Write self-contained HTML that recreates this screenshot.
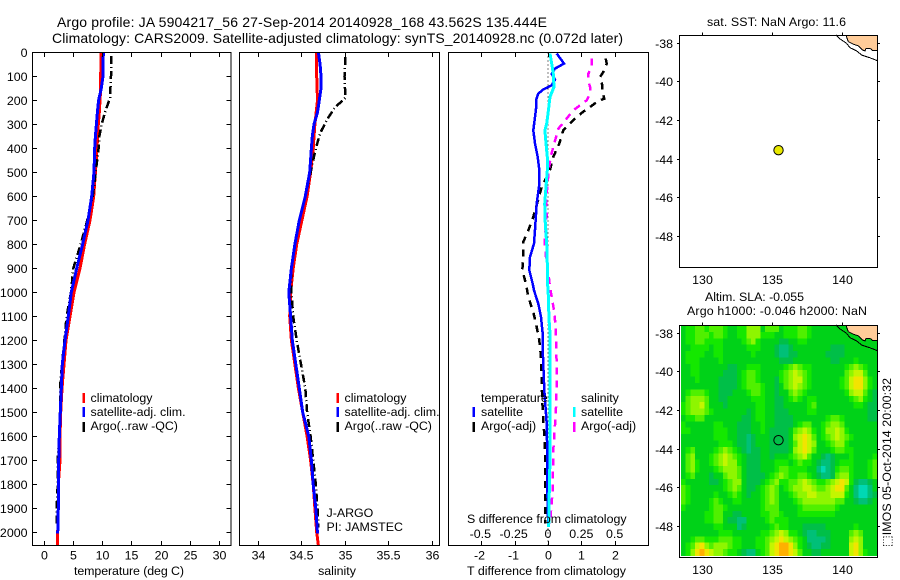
<!DOCTYPE html>
<html lang="en">
<head>
<meta charset="utf-8">
<title>Argo profile 5904217_56</title>
<style>
html,body{margin:0;padding:0;background:#fff;width:900px;height:580px;overflow:hidden}
svg{display:block}
text{font-family:"Liberation Sans","DejaVu Sans",sans-serif;font-size:12.4px;fill:#000}
</style>
</head>
<body>
<svg id="chart" width="900" height="580" viewBox="0 0 900 580" xmlns="http://www.w3.org/2000/svg">
  <rect width="900" height="580" fill="#fff"/>
  <text x="57" y="27" style="font-size:14px" textLength="490" lengthAdjust="spacing">Argo profile: JA 5904217_56 27-Sep-2014 20140928_168 43.562S 135.444E</text>
  <text x="52" y="43" style="font-size:14px" textLength="571" lengthAdjust="spacing">Climatology: CARS2009. Satellite-adjusted climatology: synTS_20140928.nc (0.072d later)</text>
  <text x="74" y="575" textLength="110" lengthAdjust="spacing">temperature (deg C)</text>
  <text x="337" y="575" text-anchor="middle">salinity</text>
  <text x="467" y="575" textLength="159" lengthAdjust="spacing">T difference from climatology</text>
  <text x="707" y="26" textLength="139" lengthAdjust="spacing">sat. SST: NaN Argo: 11.6</text>
  <text x="705" y="301" textLength="99" lengthAdjust="spacing">Altim. SLA: -0.055</text>
  <text x="687" y="315" textLength="180" lengthAdjust="spacing">Argo h1000: -0.046 h2000: NaN</text>
  <text transform="translate(891,547) rotate(-90)" textLength="169" lengthAdjust="spacing">&#11034;IMOS 05-Oct-2014 20:00:32</text>
  <g id="layer"></g>
</svg>
<script>
// ---- Profile data (depth in dbar) ----
const tempDepths = [0,100,150,200,250,300,350,400,500,600,700,800,900,1000,1100,1200,1300,1400,1500,1600,1700,1800,1900,2000];
const tempClim = [9.81,9.76,9.76,9.64,9.53,9.36,9.24,9.13,8.85,8.56,7.93,7.02,6.23,5.2,4.52,3.84,3.5,3.16,2.93,2.82,2.82,2.53,2.53,2.42];
const tempSat = [10.2,10.15,9.87,9.41,9.19,9.02,8.85,8.73,8.62,8.22,7.59,6.68,5.66,4.75,4.24,3.67,3.21,3.04,2.87,2.7,2.59,2.53,2.53,2.42];
const tempArgoDepths = [15,100,190,250,300,350,400,500,600,700,800,900,1000,1100,1200,1300,1400,1500,1600,1700,1800,1900,1970];
const tempArgo = [11.58,11.52,11.35,10.5,9.93,9.53,9.41,8.9,8.4,7.48,6.34,5.09,4.69,3.95,3.56,3.16,2.82,2.82,2.7,2.42,2.42,2.25,2.25];
const salDepths = [0,100,200,300,350,400,500,600,700,800,900,1000,1100,1200,1300,1400,1500,1600,1700,1800,1900,2000,2055];
const salClim = [34.68,34.68,34.69,34.66,34.65,34.64,34.61,34.57,34.51,34.45,34.41,34.38,34.37,34.39,34.43,34.47,34.52,34.57,34.61,34.64,34.66,34.68,34.70];
const salSatDepths = [0,50,100,150,200,250,300,350,400,500,600,700,800,900,1000,1100,1200,1300,1400,1500,1600,1700,1800,1900,2005];
const salSat = [34.70,34.72,34.73,34.73,34.71,34.69,34.65,34.63,34.62,34.60,34.55,34.48,34.43,34.39,34.36,34.38,34.40,34.44,34.48,34.52,34.59,34.62,34.64,34.67,34.69];
const salArgoDepths = [20,100,190,230,280,330,350,400,500,600,700,800,900,1000,1100,1200,1300,1400,1500,1600,1700,1800,1900,1980];
const salArgo = [35.01,35.0,35.01,34.89,34.80,34.73,34.71,34.67,34.61,34.55,34.48,34.43,34.39,34.39,34.41,34.45,34.50,34.55,34.57,34.61,34.64,34.67,34.69,34.70];
const dtSatDepths = [5,47,68,90,114,137,155,172,200,235,270,325,380,436,490,560,630,740,797,853,908,964,992,1047,1103,1172,1270,1408,1547,1686,1825,1978];
const dtSat = [.26,.48,.21,.11,.21,.11,-.14,-.29,-.36,-.36,-.39,-.44,-.39,-.31,-.26,-.27,-.34,-.39,-.42,-.54,-.56,-.46,-.42,-.29,-.21,-.16,-.15,-.11,-.04,-.02,-.02,.01];
const dtArgoDepths = [26,47,82,103,137,165,193,203,228,242,269,290,325,380,436,490,561,686,742,790,853,908,964,1019,1082,1145,1200,1256,1320,1380,1492,1575,1686,1825,1964];
const dtArgo = [1.73,1.76,1.66,1.56,1.63,1.63,1.69,1.51,1.26,1.11,.86,.71,.46,.34,.16,.06,-.19,-.44,-.59,-.74,-.74,-.77,-.66,-.59,-.44,-.34,-.26,-.22,-.20,-.19,-.16,-.12,-.08,-.08,-.08];
const dsSatDepths = [5,47,89,144,186,242,297,325,380,436,492,561,631,714,797,881,964,1019,1047,1131,1172,1408,1547,1686,1825,1978];
const dsSat = [.015,.028,.04,.045,.015,.003,-.01,-.023,-.015,-.005,-.005,-.015,-.025,-.02,-.01,-.005,-.003,.003,.003,.01,.015,.015,.015,.015,.01,.005];
const dsArgoDepths = [26,61,89,117,144,172,200,221,242,276,318,367,394,436,492,561,617,672,790,853,922,978,1019,1075,1145,1242,1339,1450,1547,1658,1825,1895,1964];
const dsArgo = [.328,.328,.303,.303,.315,.315,.29,.24,.19,.14,.078,.053,.04,.02,.005,-.005,-.015,-.01,-.025,-.015,.003,.015,.028,.045,.058,.063,.065,.063,.053,.04,.035,.025,.015];

// ---- Tick labels ----
const depthTicks = [0,100,200,300,400,500,600,700,800,900,1000,1100,1200,1300,1400,1500,1600,1700,1800,1900,2000];
const tempTicks = [0,5,10,15,20,25,30];
const salTicks = [34,34.5,35,35.5,36];
const dtTicks = [-2,-1,0,1,2];
const dsTicks = [-0.5,-0.25,0,0.25,0.5];
const lonTicks = [130,135,140];
const latTicks = [-38,-40,-42,-44,-46,-48];

// ---- Map data ----
const floatLon = 135.444;
const floatLat = -43.562;
const coastLon = [140.26,140.43,140.79,141.14,141.46,141.62,141.69,141.98,142.17,142.51];
const coastLat = [-37.6,-37.95,-38.08,-38.16,-38.38,-38.43,-38.29,-38.29,-38.41,-38.41];
const shelfLon = [139.55,139.84,140.31,140.55,141.03,141.39,141.98,142.51];
const shelfLat = [-37.6,-37.81,-38.03,-38.26,-38.43,-38.64,-38.78,-38.93];
const slaLevels = ['#00d8b4','#00c078','#00bf48','#00d218','#14e800','#50f000','#8ef600','#c4f600','#f2e400','#ffb000'];
const slaGrid = [
"344554 555433 446663 555344 455433 333333 333333",
"344555 455433 446664 443344 455433 333333 333333",
"344554 444333 345643 333223 344333 333333 333333",
"334444 344333 334443 332112 333333 332223 333333",
"344443 344333 333433 332112 233333 322223 333333",
"344433 334333 333333 333222 333333 332233 343333",
"334433 333322 334443 333345 654433 333334 565433",
"334433 333222 345543 333456 765433 333335 677533",
"333433 332222 345543 332456 775433 333345 788643",
"333333 332222 345554 332356 765433 333345 788643",
"345554 332223 334554 332335 654333 333334 677532",
"356665 332233 333444 332234 543443 333333 456432",
"456675 333233 333344 332233 333453 333333 344322",
"456665 433333 332344 332223 333443 333333 333322",
"344553 333333 322344 332222 333333 345543 333322",
"433333 344333 222334 332222 345533 456653 333333",
"443333 344433 222334 322223 567643 466764 333333",
"333333 344433 221233 322223 678753 456765 433333",
"333333 334443 221233 322223 578763 345664 333333",
"345333 345654 321223 322223 678753 334554 433333",
"356333 456765 432223 323334 567533 212333 433334",
"356433 456766 432223 334443 454432 112344 433345",
"356433 345666 532223 334554 444331 012455 433345",
"345333 233566 532222 345654 455432 112566 433345",
"433333 223456 632223 456445 567654 456787 421123",
"543333 333456 532234 565345 667765 567885 310013",
"543333 343345 432334 565334 566776 667774 310012",
"543333 454334 433334 565333 456666 666553 321123",
"433333 455433 333334 555333 345555 555433 333333",
"333334 455332 233334 455433 344444 444333 333333",
"333334 455322 113333 454443 333333 333333 333333",
"333333 344333 123333 345443 332222 233333 343333",
"333333 334443 333334 456764 432112 223333 565333",
"334554 445554 433344 567876 543111 123333 676333",
"345786 566654 433344 578998 643211 223333 786333",
"346898 766544 321134 578998 753322 333333 786433"
];

// ---- Axis functions ----
const depthY = d => 52.3 + d * 0.24;
const tempX = t => 43.5 + t * 5.86;
const salX = s => 257.5 + (s - 34) * 87;
const dtX = t => 548 + t * 33.33;
const dsX = s => 548 + s * 133.3;
const lonX = lon => 702.3 + (lon - 130) * 14;
const latY = (lat, top) => top + 7.7 + (-38 - lat) * 19.33;

const NS = 'http://www.w3.org/2000/svg';
const layer = document.getElementById('layer');
function make(tag, props, parent) {
  const n = document.createElementNS(NS, tag);
  for (const k in props) n.setAttribute(k, props[k]);
  (parent || layer).appendChild(n);
  return n;
}
function linePath(xs, ys) {
  return xs.map((x, i) => (i ? 'L' : 'M') + x.toFixed(1) + ' ' + ys[i].toFixed(1)).join('');
}
function drawProfile(name, values, depths, xFn, color, width, dash) {
  const el = make('path', {d: linePath(values.map(xFn), depths.map(depthY)), fill: 'none', stroke: color, 'stroke-width': width, 'stroke-dasharray': dash || 'none', 'shape-rendering': 'crispEdges'});
  
  
}
function drawLabel(name, str, x, y, anchor) {
  const el = make('text', {x: x, y: y, 'text-anchor': anchor || 'start'});
  el.textContent = str;
  
  
}
function drawTick(name, x1, y1, x2, y2) {
  const el = make('line', {x1: x1, y1: y1, x2: x2, y2: y2, stroke: '#000', 'stroke-width': 1, 'shape-rendering': 'crispEdges'});
  
  
}
function drawFrame(name, x, y, w, h) {
  const el = make('rect', {x: x, y: y, width: w, height: h, fill: 'none', stroke: '#000', 'stroke-width': 1, 'shape-rendering': 'crispEdges'});
  
  
}
function drawLegendMark(name, x, y, color) {
  const el = make('rect', {x: x - 1, y: y, width: 2.5, height: 10, fill: color, 'shape-rendering': 'crispEdges'});
  
  
}

// ---- Profile panels ----
const TOP = 52.5, BOT = 545.5;
const argoDash = '8 3 1 3';
drawProfile('temperature-climatology-line', tempClim.concat([2.42]), tempDepths.concat([2055]), tempX, '#ff0000', 3);
drawProfile('temperature-argo-line', tempArgo, tempArgoDepths, tempX, '#000', 2.5, argoDash);
drawProfile('temperature-satellite-line', tempSat, tempDepths.map(d => d === 2000 ? 2005 : d), tempX, '#0000ff', 3);
drawProfile('salinity-climatology-line', salClim, salDepths, salX, '#ff0000', 3);
drawProfile('salinity-argo-line', salArgo, salArgoDepths, salX, '#000', 2.5, argoDash);
drawProfile('salinity-satellite-line', salSat, salSatDepths, salX, '#0000ff', 3);

const zero = make('line', {x1: dtX(0), y1: TOP, x2: dtX(0), y2: BOT, stroke: '#000', 'stroke-width': 1, 'stroke-dasharray': '1 3', 'shape-rendering': 'crispEdges'});


drawProfile('t-difference-argo-line', dtArgo, dtArgoDepths, dtX, '#000', 2.5, '7 6');
drawProfile('s-difference-argo-line', dsArgo, dsArgoDepths, dsX, '#ff00ff', 2.5, '7 6');
drawProfile('t-difference-satellite-line', dtSat, dtSatDepths, dtX, '#0000ff', 2.5);
drawProfile('s-difference-satellite-line', dsSat, dsSatDepths, dsX, '#00ffff', 3);

drawFrame('temperature-panel-frame', 32.5, TOP, 198.5, BOT - TOP);
drawFrame('salinity-panel-frame', 239.5, TOP, 200, BOT - TOP);
drawFrame('difference-panel-frame', 448.5, TOP, 200, BOT - TOP);

depthTicks.forEach(d => {
  const y = Math.round(depthY(d)) + 0.5;
  drawTick('depth-tick-left', 32.5, y, 37, y);
  drawTick('depth-tick-right', 226.5, y, 231, y);
  drawLabel('depth-tick-label', String(d), 27.5, y + 4.5, 'end');
});
tempTicks.forEach(t => {
  const x = Math.round(tempX(t)) + 0.5;
  drawTick('temperature-tick-top', x, TOP, x, TOP + 4.5);
  drawTick('temperature-tick-bottom', x, BOT, x, BOT - 4.5);
  drawLabel('temperature-tick-label', String(t), x, 559.5, 'middle');
});
salTicks.forEach(s => {
  const x = Math.round(salX(s)) + 0.5;
  drawTick('salinity-tick-top', x, TOP, x, TOP + 4.5);
  drawTick('salinity-tick-bottom', x, BOT, x, BOT - 4.5);
  drawLabel('salinity-tick-label', String(s), x, 559.5, 'middle');
});
dtTicks.forEach(t => {
  const x = Math.round(dtX(t)) + 0.5;
  drawTick('t-difference-tick-top', x, TOP, x, TOP + 4.5);
  drawTick('t-difference-tick-bottom', x, BOT, x, BOT - 4.5);
  drawLabel('t-difference-tick-label', String(t), x - (t < 0 ? 2 : 0), 559.5, 'middle');
});
dsTicks.forEach(s => {
  drawLabel('s-difference-tick-label', String(s), dsX(s) - (s < 0 ? 1 : 0), 538, 'middle');
});
drawLabel('s-difference-axis-title', 'S difference from climatology', 467, 523);

// ---- Legends ----
drawLegendMark('legend-mark-climatology', 83.5, 393, '#ff0000');
drawLabel('legend-label-climatology', 'climatology', 90.5, 402);
drawLegendMark('legend-mark-satellite', 83.5, 407, '#0000ff');
drawLabel('legend-label-satellite', 'satellite-adj. clim.', 90.5, 416);
drawLegendMark('legend-mark-argo', 83.5, 422, '#000');
drawLabel('legend-label-argo', 'Argo(..raw -QC)', 90.5, 430);
drawLegendMark('salinity-legend-mark-climatology', 337.5, 393, '#ff0000');
drawLabel('salinity-legend-label-climatology', 'climatology', 344.5, 402);
drawLegendMark('salinity-legend-mark-satellite', 337.5, 407, '#0000ff');
drawLabel('salinity-legend-label-satellite', 'satellite-adj. clim.', 344.5, 416);
drawLegendMark('salinity-legend-mark-argo', 337.5, 422, '#000');
drawLabel('salinity-legend-label-argo', 'Argo(..raw -QC)', 344.5, 430);
drawLabel('float-program-label', 'J-ARGO', 326.5, 517);
drawLabel('float-pi-label', 'PI: JAMSTEC', 326.5, 531);
drawLabel('difference-legend-temperature-heading', 'temperature', 481, 402);
drawLegendMark('difference-legend-mark-t-satellite', 473.5, 407, '#0000ff');
drawLabel('difference-legend-label-t-satellite', 'satellite', 481, 416);
drawLegendMark('difference-legend-mark-t-argo', 473.5, 422, '#000');
drawLabel('difference-legend-label-t-argo', 'Argo(-adj)', 481, 430);
drawLabel('difference-legend-salinity-heading', 'salinity', 581, 402);
drawLegendMark('difference-legend-mark-s-satellite', 574, 407, '#00ffff');
drawLabel('difference-legend-label-s-satellite', 'satellite', 581, 416);
drawLegendMark('difference-legend-mark-s-argo', 574, 422, '#ff00ff');
drawLabel('difference-legend-label-s-argo', 'Argo(-adj)', 581, 430);

// ---- Maps ----
const MAP_H = 232, MAP_L = 679.5, MAP_W = 198;
function drawMap(prefix, top, withGrid) {
  if (withGrid) {
    const x0 = 681, y0 = top + 0.5, cw = 196 / 42, ch = 230 / 36;
    slaGrid.forEach((row, r) => {
      const cells = row.replace(/ /g, '');
      for (let c = 0; c < cells.length; c++) {
        const cell = make('rect', {x: (x0 + c * cw).toFixed(2), y: (y0 + r * ch).toFixed(2), width: (cw + 0.5).toFixed(2), height: (ch + 0.5).toFixed(2), fill: slaLevels[+cells[c]], 'shape-rendering': 'crispEdges'});
        
        
      }
    });
  }
  const landX = coastLon.map(lonX).concat([lonX(142.51)]);
  const landY = coastLat.map(l => latY(l, top)).concat([top]);
  const land = make('path', {d: linePath(landX, landY) + 'Z', fill: '#ffcc99', stroke: 'none', 'shape-rendering': 'crispEdges'});
  
  
  const coast = make('path', {d: linePath(coastLon.map(lonX), coastLat.map(l => latY(l, top))), fill: 'none', stroke: '#000', 'stroke-width': 1, 'shape-rendering': 'crispEdges'});
  
  
  const shelf = make('path', {d: linePath(shelfLon.map(lonX), shelfLat.map(l => latY(l, top))), fill: 'none', stroke: '#000', 'stroke-width': 1, 'shape-rendering': 'crispEdges'});
  
  
  drawFrame(prefix + '-frame', MAP_L, top + 0.5, MAP_W, MAP_H);
  lonTicks.forEach(lon => {
    const x = Math.round(lonX(lon)) + 0.5;
    drawTick(prefix + '-longitude-tick', x, top - 2.5, x, top + 0.5);
    drawLabel(prefix + '-longitude-label', String(lon), x, top + 249, 'middle');
  });
  latTicks.forEach(lat => {
    const y = Math.round(latY(lat, top)) + 0.5;
    drawTick(prefix + '-latitude-tick-left', MAP_L - 2.5, y, MAP_L, y);
    drawTick(prefix + '-latitude-tick-right', MAP_L + MAP_W, y, MAP_L + MAP_W + 2.5, y);
    drawLabel(prefix + '-latitude-label', String(lat), 673, y + 4.5, 'end');
  });
  const marker = make('circle', {cx: lonX(floatLon), cy: latY(floatLat, top), r: 4.7, fill: withGrid ? 'none' : '#e8e800', stroke: '#000', 'stroke-width': 1});
  
  
}
drawMap('sst-map', 35, false);
drawMap('sla-map', 325, true);
</script>
</body>
</html>
